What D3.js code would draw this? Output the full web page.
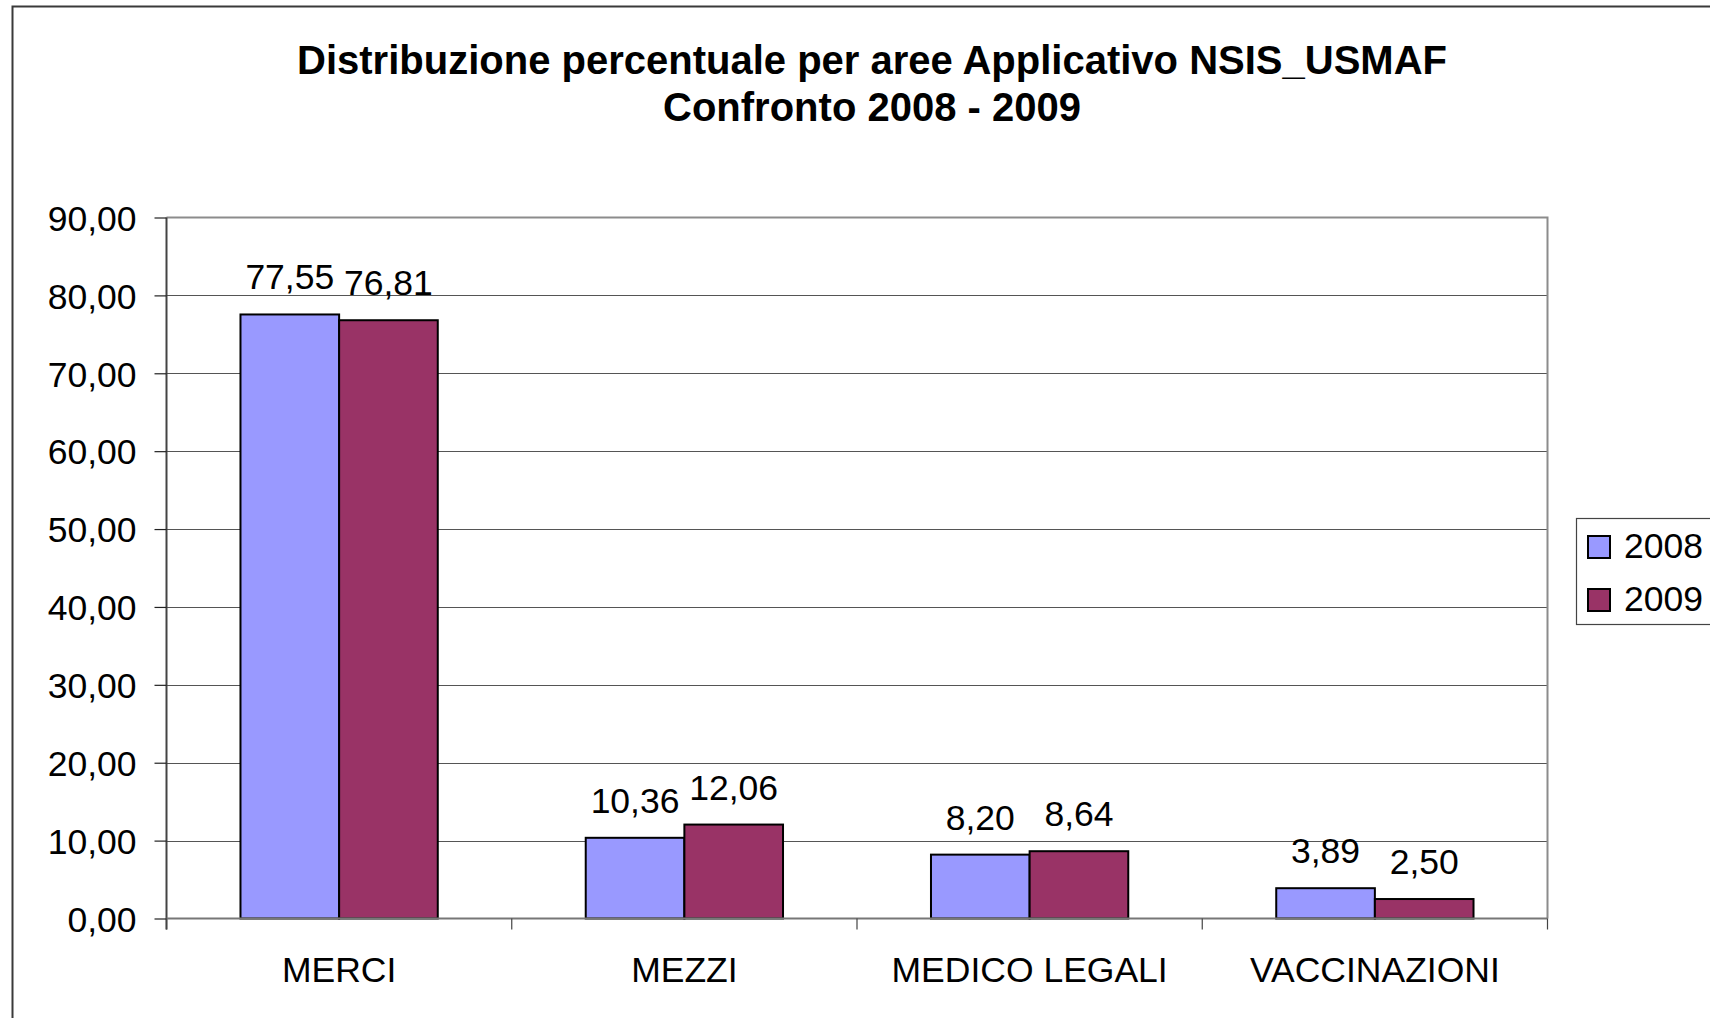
<!DOCTYPE html>
<html>
<head>
<meta charset="utf-8">
<script src="https://cdn.jsdelivr.net/npm/d3@7"></script>
<style>
  html, body { margin: 0; padding: 0; background: #fff; }
  svg { display: block; }
  text { font-family: "Liberation Sans", Arial, sans-serif; fill: #000; }
</style>
</head>
<body>
<svg id="chart" width="1710" height="1018"></svg>
<script>
// ---- data ----
const titleLines = ["Distribuzione percentuale per aree Applicativo NSIS_USMAF", "Confronto 2008 - 2009"];
const categories = ["MERCI", "MEZZI", "MEDICO LEGALI", "VACCINAZIONI"];
const seriesNames = ["2008", "2009"];
const values2008 = [77.55, 10.36, 8.20, 3.89];
const values2009 = [76.81, 12.06, 8.64, 2.50];
const yTicks = [0, 10, 20, 30, 40, 50, 60, 70, 80, 90];

// ---- layout / style ----
const colors = ["#9999FF", "#993366"];
const plot = { left: 166.5, right: 1547.5, top: 217.5, bottom: 918.5 };
const fontSize = 35.5;

const svg = d3.select("#chart");
const fmt = v => d3.format(".2f")(v).replace(".", ",");

// outer chart border
svg.append("rect")
  .attr("x", 12.5).attr("y", 6.5)
  .attr("width", 1760).attr("height", 1060)
  .attr("fill", "#fff").attr("stroke", "#3a3a3a").attr("stroke-width", 2);

// title
const title = svg.append("text")
  .attr("text-anchor", "middle")
  .attr("font-weight", "bold")
  .attr("font-size", 40);
titleLines.forEach((t, i) => {
  title.append("tspan").attr("x", 872).attr("y", 74 + i * 47).text(t);
});

const x0 = d3.scaleBand().domain(categories).range([plot.left, plot.right]).paddingInner(0).paddingOuter(0);
const barW = x0.bandwidth() / 3.5;
const y = d3.scaleLinear().domain([0, 90]).range([plot.bottom, plot.top]);

// plot area
svg.append("rect")
  .attr("x", plot.left).attr("y", plot.top)
  .attr("width", plot.right - plot.left).attr("height", plot.bottom - plot.top)
  .attr("fill", "#fff").attr("stroke", "none");

// gridlines
svg.append("g").selectAll("line").data(yTicks.filter(d => d > 0 && d < 90)).join("line")
  .attr("x1", plot.left).attr("x2", plot.right)
  .attr("y1", d => Math.round(y(d)) + 0.5).attr("y2", d => Math.round(y(d)) + 0.5)
  .attr("stroke", "#555").attr("stroke-width", 1.2);

// plot border top & right (gray)
svg.append("path")
  .attr("d", `M${plot.left},${plot.top} H${plot.right} V${plot.bottom}`)
  .attr("fill", "none").attr("stroke", "#8c8c8c").attr("stroke-width", 2);

// bars
const series = [values2008, values2009];
series.forEach((vals, si) => {
  svg.append("g").selectAll("rect").data(categories).join("rect")
    .attr("x", (c) => x0(c) + x0.bandwidth() / 2 - barW + si * barW)
    .attr("y", (c, i) => y(vals[i]))
    .attr("width", barW)
    .attr("height", (c, i) => y(0) - y(vals[i]))
    .attr("fill", colors[si])
    .attr("stroke", "#000").attr("stroke-width", 2);
});

// data labels
series.forEach((vals, si) => {
  svg.append("g").selectAll("text").data(categories).join("text")
    .attr("x", (c) => x0(c) + x0.bandwidth() / 2 - barW / 2 + si * barW)
    .attr("y", (c, i) => y(vals[i]) - 25)
    .attr("text-anchor", "middle")
    .attr("font-size", fontSize)
    .text((c, i) => fmt(vals[i]));
});

// y axis
const yAxis = d3.axisLeft(y).tickValues(yTicks).tickFormat(fmt).tickSize(12).tickPadding(18);
const gy = svg.append("g").attr("transform", `translate(${plot.left},0)`).call(yAxis);
gy.select(".domain").attr("stroke", "#444").attr("stroke-width", 2).attr("d", `M0,${plot.top}V${plot.bottom + 11}`);
gy.selectAll(".tick line").attr("stroke", "#222").attr("stroke-width", 1.2);
gy.selectAll(".tick text").attr("font-size", fontSize).attr("font-family", "Liberation Sans, Arial, sans-serif").attr("fill", "#000").attr("dy", "0.36em");

// x axis
const xAxis = d3.axisBottom(x0).tickSize(0).tickPadding(0);
const gx = svg.append("g").attr("transform", `translate(0,${plot.bottom})`).call(xAxis);
gx.select(".domain").attr("stroke", "#777").attr("stroke-width", 2).attr("d", `M${plot.left},0H${plot.right}`);
gx.selectAll(".tick text").attr("font-size", fontSize).attr("font-family", "Liberation Sans, Arial, sans-serif")
  .attr("fill", "#000").attr("y", 63).attr("dy", 0);
// category separator ticks
const sepTicks = categories.map(c => x0(c)).concat([plot.right]);
gx.append("g").selectAll("line").data(sepTicks).join("line")
  .attr("x1", d => d).attr("x2", d => d).attr("y1", 0).attr("y2", 11)
  .attr("stroke", "#444").attr("stroke-width", 1.2);

// legend
const lg = svg.append("g");
lg.append("rect").attr("x", 1576.5).attr("y", 518.5).attr("width", 200).attr("height", 106)
  .attr("fill", "#fff").attr("stroke", "#444").attr("stroke-width", 1.2);
seriesNames.forEach((n, i) => {
  lg.append("rect").attr("x", 1588).attr("y", 536 + i * 53).attr("width", 22).attr("height", 22)
    .attr("fill", colors[i]).attr("stroke", "#000").attr("stroke-width", 2);
  lg.append("text").attr("x", 1624).attr("y", 558 + i * 53).attr("font-size", fontSize).text(n);
});
</script>
</body>
</html>
